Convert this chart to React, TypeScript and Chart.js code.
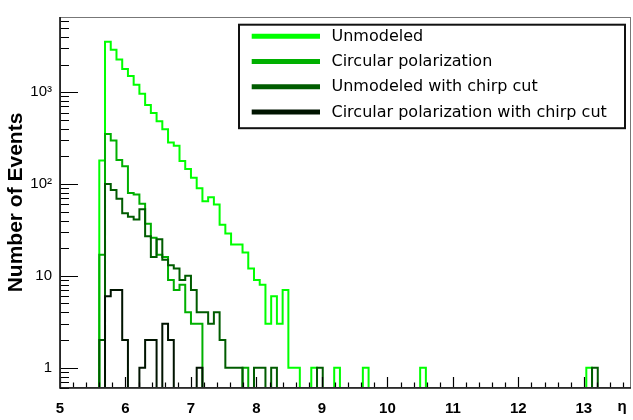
import React, { useEffect, useRef } from 'react';
import { Chart, registerables } from 'chart.js';

Chart.register(...registerables);

// ---- histogram binning (bins of equal width, first bin starts at BIN_START) ----
const BIN_START = 5.6;
const BIN_WIDTH = 0.0875;
const X_MIN = 5;
const X_MAX = 13.72;
const Y_MIN = 0.6;
const Y_MAX = 6600;
const EMPTY = 0.01; // empty bins (log axis) end up below the frame

const seriesLabels = [
  'Unmodeled',
  'Circular polarization',
  'Unmodeled with chirp cut',
  'Circular polarization with chirp cut',
];
const seriesColors = ['#00ff00', '#00b000', '#005c00', '#001400'];

// counts per bin, from the first bin onward
const unmodeled = [
  180, 3540, 2900, 2280, 1790, 1500, 1205, 962, 724, 593, 484, 395, 283, 262, 178, 146,
  117, 90, 65, 72, 60, 36, 29, 22, 22, 18, 12, 9, 8, 3, 6, 3, 7, 1, 1,
];
// isolated bins further out: [bin index, count]
const unmodeledTail: [number, number][] = [[37, 1], [41, 1], [46, 1], [56, 1], [85, 1]];

const circular = [17, 350, 298, 183, 156, 80, 77, 61, 37, 26, 17, 16, 9, 7, 8, 4, 3, 3];
const circularTail: [number, number][] = [[25, 1]];

const unmodeledChirp = [
  2, 100, 86, 69, 48, 44, 41, 53, 27, 16, 25, 15, 13, 12, 9, 10, 7, 4, 4, 3, 4, 2, 1, 1, 1,
];
const unmodeledChirpTail: [number, number][] = [[27, 1], [28, 1], [30, 1], [38, 1], [86, 1]];

const circularChirp = [0, 6, 7, 7, 2, 0, 0, 1, 2, 2, 0, 3, 2, 0, 0, 0, 0, 1];
const circularChirpTail: [number, number][] = [];

const yTickValues = [1, 10, 100, 1000];
const yTickLabels = ['1', '10', '10²', '10³'];
const xTickStep = 1;
const xAxisSymbol = 'η';
const yAxisTitle = 'Number of Events';

function binEdge(k: number) {
  return BIN_START + k * BIN_WIDTH;
}

function histogramPoints(counts: number[], tail: [number, number][]) {
  const byBin = new Map<number, number>();
  counts.forEach((c, k) => byBin.set(k, c));
  tail.forEach(([k, c]) => byBin.set(k, c));
  const last = Math.max(...Array.from(byBin.keys()));
  const pts: { x: number; y: number }[] = [{ x: binEdge(0), y: EMPTY }];
  for (let k = 0; k <= last; k++) {
    const c = byBin.get(k) || 0;
    pts.push({ x: binEdge(k), y: c > 0 ? c : EMPTY });
  }
  pts.push({ x: binEdge(last + 1), y: EMPTY });
  return pts;
}

const seriesCounts = [unmodeled, circular, unmodeledChirp, circularChirp];
const seriesTails = [unmodeledTail, circularTail, unmodeledChirpTail, circularChirpTail];

const framePlugin = {
  id: 'rootFrame',
  afterDatasetsDraw(chart: any) {
    const { ctx, chartArea: a, scales } = chart;
    const x = scales.x;
    const y = scales.y;
    ctx.save();
    ctx.strokeStyle = '#000';
    ctx.lineWidth = 1.2;
    ctx.beginPath();
    // x ticks (inside, upward)
    const nMinor = Math.floor((x.max - x.min) / 0.2 + 1e-6);
    for (let i = 0; i <= nMinor; i++) {
      const v = x.min + i * 0.2;
      const px = Math.round(x.getPixelForValue(v)) + 0.5;
      const len = i % 5 === 0 ? 11 : 5.5;
      ctx.moveTo(px, a.bottom);
      ctx.lineTo(px, a.bottom - len);
    }
    // y ticks (inside, rightward)
    for (let e = -1; e <= 4; e++) {
      for (let m = 1; m <= 9; m++) {
        const v = m * Math.pow(10, e);
        if (v < y.min || v > y.max) continue;
        const py = Math.round(y.getPixelForValue(v)) + 0.5;
        const len = m === 1 ? 18 : 9;
        ctx.moveTo(a.left, py);
        ctx.lineTo(a.left + len, py);
      }
    }
    ctx.stroke();
    // frame
    ctx.lineWidth = 1;
    ctx.strokeStyle = '#777';
    ctx.strokeRect(a.left + 0.5, a.top + 0.5, a.width - 1, a.height - 1);
    ctx.lineWidth = 1.6;
    ctx.strokeStyle = '#111';
    ctx.beginPath();
    ctx.moveTo(a.left, a.top);
    ctx.lineTo(a.left, a.bottom);
    ctx.lineTo(a.right, a.bottom);
    ctx.stroke();

    // axis symbol at the right end of the x labels
    ctx.fillStyle = '#000';
    ctx.font = 'bold 15px "Liberation Sans"';
    ctx.textAlign = 'center';
    ctx.textBaseline = 'middle';
    ctx.fillText(xAxisSymbol, a.right - 9, a.bottom + 19);

    // legend box
    const bw = 386;
    const bh = 103.5;
    const bx = a.right - 392;
    const by = a.top + 7.7;
    ctx.fillStyle = '#fff';
    ctx.fillRect(bx, by, bw, bh);
    ctx.lineWidth = 2;
    ctx.strokeStyle = '#111';
    ctx.strokeRect(bx, by, bw, bh);
    ctx.font = '16px "DejaVu Sans"';
    ctx.textAlign = 'left';
    chart.data.datasets.forEach((ds: any, i: number) => {
      const ry = by + 11.6 + i * 25.2;
      ctx.strokeStyle = ds.borderColor;
      ctx.lineWidth = 5;
      ctx.beginPath();
      ctx.moveTo(bx + 12.7, ry);
      ctx.lineTo(bx + 81, ry);
      ctx.stroke();
      ctx.fillStyle = '#000';
      ctx.fillText(ds.label, bx + 92.5, ry + 0.5);
    });
    ctx.restore();
  },
};

export default function App() {
  const ref = useRef<HTMLCanvasElement | null>(null);

  useEffect(() => {
    document.body.style.margin = '0';
    const canvas = ref.current;
    if (!canvas) return;
    const datasets = seriesLabels.map((label, i) => ({
      label,
      data: histogramPoints(seriesCounts[i], seriesTails[i]),
      borderColor: seriesColors[i],
      backgroundColor: seriesColors[i],
      borderWidth: 2,
      pointRadius: 0,
      stepped: true as const,
      fill: false,
      order: seriesLabels.length - i,
      clip: 0,
    }));

    const chart = new Chart(canvas, {
      type: 'line',
      data: { datasets },
      plugins: [framePlugin],
      options: {
        animation: false,
        responsive: false,
        devicePixelRatio: 1,
        parsing: true,
        layout: { padding: { left: 0, right: 2, top: 4, bottom: 0 } },
        plugins: {
          legend: { display: false },
          tooltip: { enabled: false },
        },
        scales: {
          x: {
            type: 'linear',
            min: X_MIN,
            max: X_MAX,
            grid: { display: false, drawTicks: false },
            border: { display: false },
            ticks: {
              stepSize: xTickStep,
              includeBounds: false,
              autoSkip: false,
              maxRotation: 0,
              padding: 12,
              color: '#000',
              font: { family: 'Liberation Sans', size: 15, weight: 'bold' },
              callback: (v: any) => String(v),
            },
            afterFit: (s: any) => {
              s.height = 32;
            },
          },
          y: {
            type: 'logarithmic',
            min: Y_MIN,
            max: Y_MAX,
            grid: { display: false, drawTicks: false },
            border: { display: false },
            afterBuildTicks: (s: any) => {
              s.ticks = yTickValues.map((v) => ({ value: v }));
            },
            ticks: {
              autoSkip: false,
              padding: 8,
              color: '#000',
              font: { family: 'Liberation Sans', size: 15 },
              callback: (v: any) => {
                const i = yTickValues.indexOf(Number(v));
                return i >= 0 ? yTickLabels[i] : '';
              },
            },
            title: {
              display: true,
              text: yAxisTitle,
              color: '#000',
              font: { family: 'Liberation Sans', size: 21, weight: 'bold' },
              padding: { top: 4, bottom: 0 },
            },
            afterFit: (s: any) => {
              s.width = 60;
            },
          },
        },
      },
    });
    return () => chart.destroy();
  }, []);

  return (
    <div style={{ width: 633, height: 420, background: '#fff' }}>
      <canvas ref={ref} width={633} height={420} style={{ display: 'block' }} />
    </div>
  );
}
